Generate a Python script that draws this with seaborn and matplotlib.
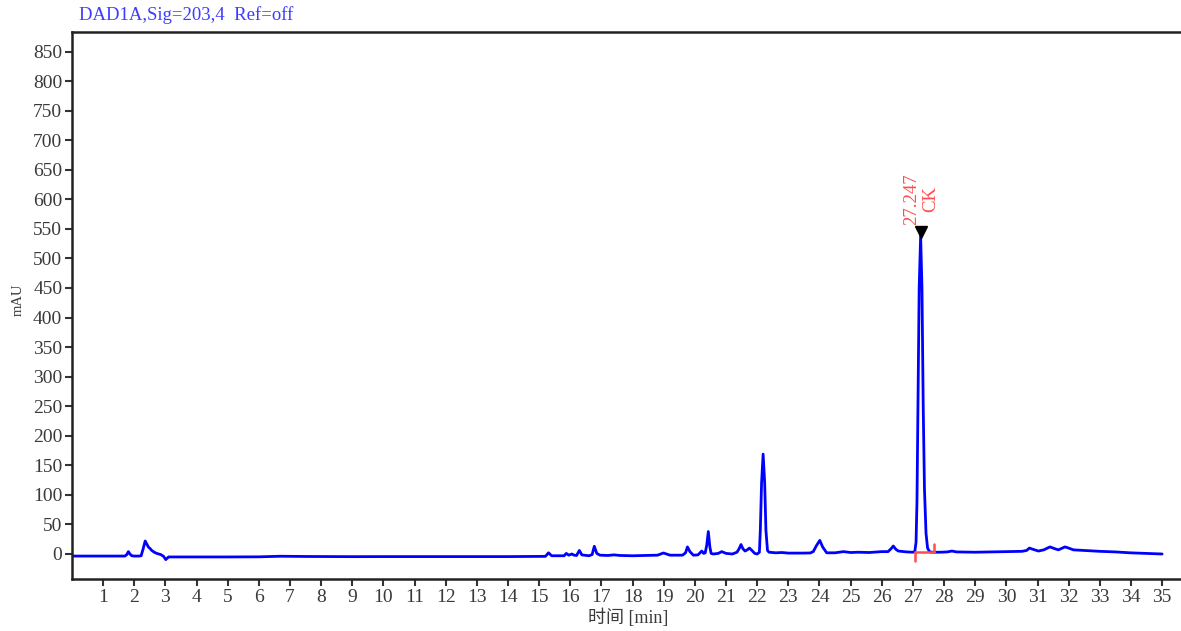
import matplotlib
matplotlib.use("Agg")
import matplotlib.pyplot as plt
import numpy as np
import pandas as pd
import seaborn as sns

# chromatogram trace (time [min], signal [mAU])
time_min = [
    0.0, 0.5, 1.0, 1.5, 1.7, 1.76, 1.81, 1.86, 1.92, 2.0, 2.15, 2.22, 2.28, 2.35,
    2.40, 2.45, 2.51, 2.56, 2.64, 2.72, 2.85, 2.94, 3.01, 3.1, 3.3, 4.0, 5.0,
    6.0, 6.7, 7.5, 9.0, 10.0, 12.0, 14.0, 15.2, 15.3, 15.4, 15.8, 15.87, 15.95,
    16.05, 16.12, 16.2, 16.29, 16.37, 16.6, 16.7, 16.77, 16.85, 16.95, 17.2,
    17.4, 17.6, 18.0, 18.8, 18.99, 19.2, 19.6, 19.7, 19.76, 19.84, 19.95, 20.1,
    20.22, 20.28, 20.33, 20.38, 20.43, 20.48, 20.52, 20.59, 20.75, 20.86, 21.0,
    21.2, 21.35, 21.42, 21.48, 21.54, 21.61, 21.68, 21.75, 21.83, 21.92, 22.0,
    22.07, 22.10, 22.14, 22.19, 22.24, 22.28, 22.33, 22.38, 22.6, 22.79, 23.0,
    23.4, 23.7, 23.8, 23.9, 24.01, 24.1, 24.23, 24.5, 24.77, 25.0, 25.25, 25.6,
    26.0, 26.2, 26.3, 26.37, 26.45, 26.53, 26.8, 27.0, 27.06, 27.10, 27.13,
    27.16, 27.20, 27.247, 27.29, 27.33, 27.37, 27.42, 27.47, 27.53, 27.6, 27.9,
    28.1, 28.25, 28.4, 29.0, 29.5, 29.96, 30.5, 30.65, 30.74, 30.85, 31.03,
    31.2, 31.4, 31.55, 31.67, 31.88, 32.0, 32.15, 32.5, 33.0, 33.5, 33.97,
    34.5, 35.0,
]
signal_mau = [
    -3.5, -3.5, -3.5, -3.5, -3.5, -1.0, 4.0, 0.0, -3.0, -3.5, -3.5, -3.0, 8.0, 22.0,
    17.0, 12.0, 9.0, 6.0, 3.0, 1.0, -1.0, -4.0, -9.5, -5.0, -5.0, -5.0, -5.0,
    -4.8, -3.8, -4.2, -4.5, -4.4, -4.4, -4.4, -4.0, 2.0, -3.0, -3.0, 1.0, -2.0,
    0.0, -2.0, -2.5, 6.0, -1.5, -3.0, -1.0, 13.0, 1.0, -2.0, -2.5, -1.5, -2.5,
    -3.0, -2.0, 1.7, -2.0, -2.0, 2.0, 12.0, 4.0, -2.0, -1.5, 5.0, 1.0, 2.0,
    15.0, 38.0, 12.0, 1.0, 0.0, 1.0, 4.0, 1.0, 0.0, 3.0, 9.0, 16.0, 9.0, 5.0,
    7.0, 10.0, 6.0, 1.0, 0.0, 3.0, 40.0, 120.0, 169.0, 120.0, 40.0, 6.0, 3.0,
    2.0, 2.5, 1.5, 1.5, 1.7, 4.0, 14.0, 23.0, 12.0, 2.0, 2.0, 4.0, 2.5, 3.0,
    2.5, 4.0, 4.0, 9.0, 13.5, 8.0, 5.0, 3.5, 3.0, 4.0, 20.0, 90.0, 240.0,
    450.0, 538.0, 450.0, 250.0, 110.0, 35.0, 10.0, 4.0, 3.0, 3.0, 3.5, 5.0,
    3.5, 3.0, 3.5, 4.0, 4.5, 6.0, 10.0, 8.0, 5.0, 7.0, 12.0, 9.0, 7.0, 12.0,
    10.0, 7.0, 6.0, 4.5, 3.5, 2.0, 1.0, 0.0,
]

# peak annotation
peak_time = 27.247
peak_height = 538.0
peak_label = "27.247\nCK"

# integration baseline of the labelled peak
base_start, base_end = 27.06, 27.67
base_level = 3.4
base_tick_low = -12.0
base_tick_high = 17.6

x_ticks = list(range(1, 36))
y_ticks = list(range(0, 851, 50))

df = pd.DataFrame({"time": time_min, "signal": signal_mau})

sns.set_style("ticks")
plt.rcParams["font.family"] = ["Liberation Serif", "Noto Sans CJK SC", "DejaVu Sans"]

fig = plt.figure(figsize=(11.81, 6.31), dpi=100)
ax = fig.add_axes([72 / 1181, 52 / 631, 1 - 72 / 1181, (579 - 32) / 631])

sns.lineplot(data=df, x="time", y="signal", ax=ax, color="#0000ff",
             linewidth=2.0, estimator=None, sort=False)

# integration baseline in red
red = "#ff4d4d"
ax.plot([base_start, base_end], [base_level, base_level], color=red, lw=1.8)
ax.plot([base_start, base_start], [base_level, base_tick_low], color=red, lw=1.8)
ax.plot([base_end, base_end], [base_level, base_tick_high], color=red, lw=1.8)

# peak marker and label
ax.plot([peak_time], [peak_height + 6], marker="v", color="black",
        markersize=9, linestyle="none")
ax.text(peak_time + 0.02, peak_height + 18, peak_label, rotation=90,
        color=red, ha="center", va="bottom", fontsize=13.5, linespacing=1.2)

ax.set_xlim(0, (1181 - 71.85) / 31.15)
ax.set_ylim(-42.3, 883)
ax.set_xticks(x_ticks)
ax.set_xticklabels([str(t) for t in x_ticks])
ax.set_yticks(y_ticks)
ax.set_yticklabels([str(t) for t in y_ticks])
ax.tick_params(axis="both", direction="out", length=5, width=1.5,
               color="#333333", labelcolor="#3a3a3a", labelsize=14, pad=2)
ax.set_xlabel("")
ax.set_ylabel("")

for side in ["left", "top", "bottom"]:
    ax.spines[side].set_linewidth(1.8)
    ax.spines[side].set_color("#222222")
ax.spines["right"].set_visible(False)

fig.text(79 / 1181, 1 - 15 / 631, "DAD1A,Sig=203,4  Ref=off", color="#3c3cff",
         fontsize=13.5, ha="left", va="center")
fig.text(18 / 1181, 1 - 300 / 631, "mAU", rotation=90, color="#3a3a3a",
         fontsize=10.5, ha="center", va="center")
fig.text(628 / 1181, 1 - 618 / 631, "时间 [min]", color="#3a3a3a",
         fontsize=13, ha="center", va="center")

fig.savefig("out.png", dpi=100)
